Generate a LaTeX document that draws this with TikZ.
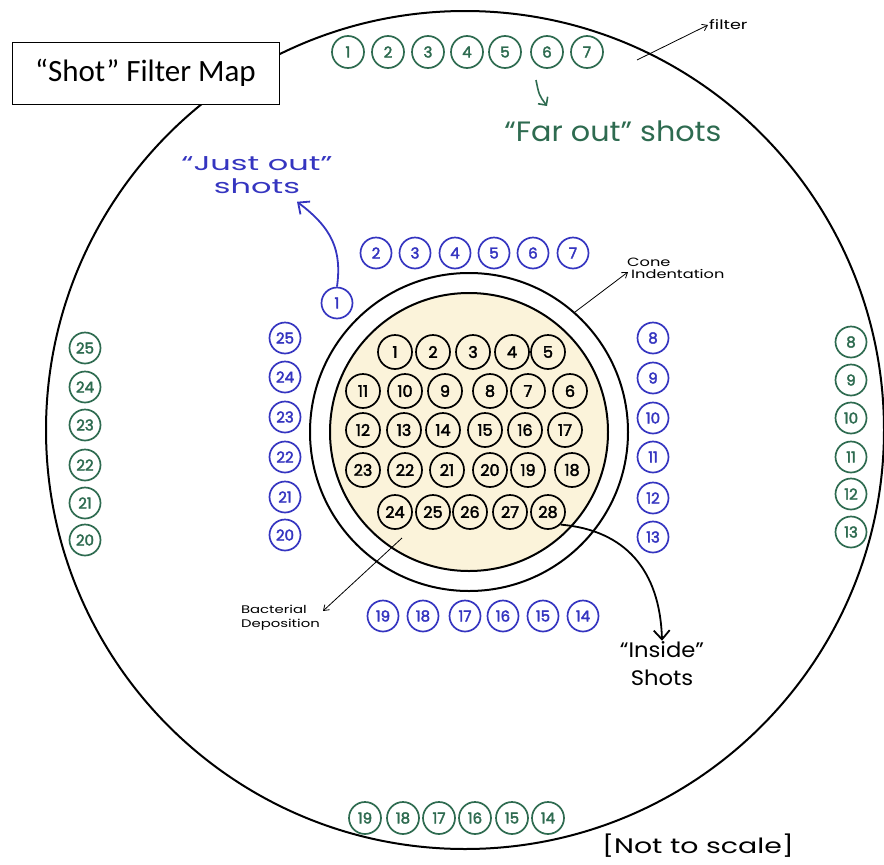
\documentclass[tikz,border=0pt]{standalone}
\usepackage{fontspec}
\setmainfont{Poppins}
\newfontfamily\titlefont{Carlito}
\newfontfamily\numfont[FakeBold=2.5]{Poppins}
\newfontfamily\handfont[FakeStretch=1.35]{Poppins}
\newfontfamily\handwide[FakeStretch=1.6]{Poppins}
\newfontfamily\handnarrow[FakeStretch=1.08]{Poppins}
\usetikzlibrary{arrows.meta,calc}
\definecolor{fgreen}{HTML}{2E6B50}
\definecolor{fblue}{HTML}{3535C0}
\definecolor{cream}{HTML}{FBF3DA}
\begin{document}
\begin{tikzpicture}[x=1pt,y=-1pt,
  num/.style={circle, draw, line width=1.7pt, minimum size=32pt, inner sep=0pt, font=\numfont\fontsize{15}{15}\selectfont},
  gnum/.style={num, draw=fgreen, text=fgreen},
  bnum/.style={num, draw=fblue, text=fblue, minimum size=31pt},
  knum/.style={num, draw=black, text=black, minimum size=34pt, font=\numfont\fontsize{16}{16}\selectfont},
  ring/.style={draw=black, line width=2pt},
  hand/.style={inner sep=1pt},
  thinarrow/.style={draw=black, line width=0.8pt, -{Straight Barb[length=5pt,width=7pt]}},
  bigarrow/.style={line width=1.8pt, -{Straight Barb[length=9pt,width=16pt]}}
]
\useasboundingbox (0,0) rectangle (884,865);
% outer filter
\coordinate (c0) at (465,430);
\draw[ring] (c0) circle [radius=419pt];
% cone indentation
\draw[ring, fill=white] (469,432) circle [radius=159pt];
\draw[ring, fill=cream] (469,432) circle [radius=139pt];
% title box
\node[draw, line width=1pt, fill=white, minimum width=267pt, minimum height=62pt, inner sep=0pt,
  font=\titlefont\fontsize{31}{31}\selectfont] (title) at (145.5,73) {“Shot” Filter Map};
% green far-out circles
\foreach \n/\x in {1/348,2/388,3/428,4/467,5/505,6/547,7/587}
  \node[gnum] (g\n) at (\x,52) {\n};
\foreach \n/\y in {25/348,24/387,23/425,22/465,21/503,20/540}
  \node[gnum, minimum size=31pt] (gl\n) at (85,\y) {\n};
\foreach \n/\y in {8/342,9/380,10/418,11/457,12/494,13/532}
  \node[gnum, minimum size=31pt] (gr\n) at (851,\y) {\n};
\foreach \n/\x in {19/365,18/403,17/439,16/475,15/512,14/548}
  \node[gnum] (gb\n) at (\x,818) {\n};
% blue just-out circles
\node[bnum] (b1) at (337,303) {1};
\foreach \n/\x in {2/376,3/415,4/455,5/494,6/533,7/573}
  \node[bnum] (b\n) at (\x,253) {\n};
\foreach \n/\y in {25/338,24/377,23/417,22/457,21/497,20/535}
  \node[bnum] (bl\n) at (285,\y) {\n};
\foreach \n/\y in {8/338,9/378,10/418,11/457,12/498,13/537}
  \node[bnum] (br\n) at (653,\y) {\n};
\foreach \n/\x in {19/383,18/423,17/465,16/503,15/543,14/583}
  \node[bnum] (bb\n) at (\x,616) {\n};
% inside circles
\foreach \n/\x in {1/395,2/433,3/473,4/512,5/548}
  \node[knum] (k\n) at (\x,352) {\n};
\foreach \n/\x in {11/363,10/405,9/445,8/490,7/528,6/570}
  \node[knum] (k\n) at (\x,391) {\n};
\foreach \n/\x in {12/363,13/404,14/443,15/485,16/525,17/565}
  \node[knum] (k\n) at (\x,430) {\n};
\foreach \n/\x in {23/363,22/405,21/447,20/490,19/528,18/572}
  \node[knum] (k\n) at (\x,470) {\n};
\foreach \n/\x in {24/395,25/433,26/470,27/510,28/548}
  \node[knum] (k\n) at (\x,512) {\n};
% labels
\node[hand, text=fgreen, font=\handnarrow\fontsize{28}{28}\selectfont] (farout) at (613,131) {“Far out” shots};
\node[hand, text=fblue, font=\handwide\fontsize{20}{23}\selectfont, align=center] (justout) at (257,175) {“Just out”\\shots};
\node[hand, font=\handnarrow\fontsize{21}{28}\selectfont, align=center] (inside) at (662,664) {“Inside”\\Shots};
\node[hand, font=\handfont\fontsize{21}{21}\selectfont] (nts) at (698,846) {[Not to scale]};
\node[hand, anchor=west, font=\handfont\fontsize{13}{13}\selectfont] (filterlbl) at (708,25) {filter};
\node[hand, anchor=west, align=left, font=\handfont\fontsize{12}{12}\selectfont] (conelbl) at (626,268) {Cone\\\hspace{4pt}Indentation};
\node[hand, anchor=north east, align=left, font=\handfont\fontsize{11}{14}\selectfont] (bactlbl) at (321,604) {Bacterial\\Deposition};
% connectors
\coordinate (fstart) at (637,60);
\draw[thinarrow] (fstart) -- (filterlbl.west);
\coordinate (cstart) at (575,312);
\draw[thinarrow] (cstart) -- ($(conelbl.west)+(2,4)$);
\coordinate (bstart) at (402,538);
\draw[thinarrow] (bstart) -- ($(bactlbl.north east)+(2,7)$);
\coordinate (fo1) at (536,80);
\coordinate (fo2) at (547,106);
\draw[fgreen, line width=1.6pt, -{Straight Barb[length=6pt,width=12pt]}] (fo1) .. controls (539,95) .. (fo2);
\coordinate (jtip) at ($(justout.south)+(40,7)$);
\draw[fblue, bigarrow] (b1.north) .. controls (342,250) and (332,228) .. (jtip);
\draw[black, bigarrow] (k28.south east) .. controls (625,530) and (660,570) .. (inside.north);
\end{tikzpicture}
\end{document}
